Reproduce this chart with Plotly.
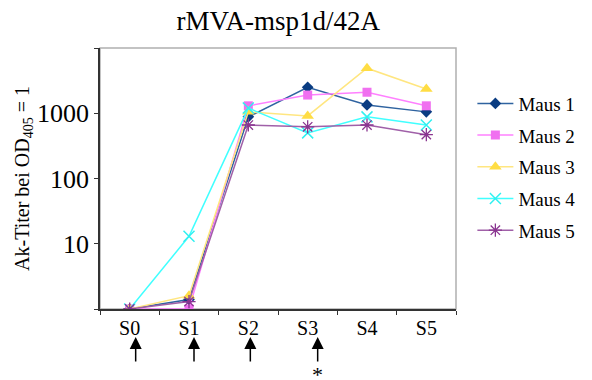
import plotly.graph_objects as go

categories = ["S0", "S1", "S2", "S3", "S4", "S5"]
maus1 = [1, 1.4, 880, 2500, 1340, 1050]
maus2 = [1, 1, 1300, 1900, 2100, 1300]
maus3 = [1, 1.6, 1050, 910, 4900, 2350]
maus4 = [1, 13, 1200, 500, 880, 660]
maus5 = [1, 1.3, 660, 620, 660, 470]
names = ["Maus 1", "Maus 2", "Maus 3", "Maus 4", "Maus 5"]
series = [maus1, maus2, maus3, maus4, maus5]
arrow_cats = ["S0", "S1", "S2", "S3"]
ytickvals = [1, 10, 100, 1000, 10000]
yticktext = ["", "10", "100", "1000", ""]

styles = [
    dict(line="#2F63A0", marker=dict(symbol="diamond", color="#0A3C82", size=9)),
    dict(line="#FF80FF", marker=dict(symbol="square", color="#F070F0", size=9)),
    dict(line="#FFE680", marker=dict(symbol="triangle-up", color="#FFDD44", size=11)),
    dict(line="#40FFFF", marker=dict(symbol="x-thin", color="#30F0F0", size=11,
                                     line=dict(color="#30F0F0", width=1.5))),
    dict(line="#A060A8", marker=dict(symbol="asterisk", color="#8A3590", size=11,
                                     line=dict(color="#8A3590", width=1.3))),
]

FONT = "Liberation Serif"
fig = go.Figure()
for i, (nm, vals, st) in enumerate(zip(names, series, styles)):
    fig.add_trace(go.Scatter(
        x=categories, y=vals, name=nm, mode="lines+markers",
        line=dict(color=st["line"], width=1.5),
        marker=st["marker"], legendgroup=f"g{i}",
    ))

annotations = []
shifts = {"S0": 6, "S1": 5, "S2": 2, "S3": 10}
for c in arrow_cats:
    annotations.append(dict(
        x=c, y=-0.107, xref="x", yref="paper", xshift=shifts[c],
        showarrow=True, ax=0, ay=26, axref="pixel", ayref="pixel",
        arrowhead=2, arrowsize=1.6, arrowwidth=1.5, arrowcolor="black", text="",
    ))
annotations.append(dict(
    x="S3", y=-0.305, xref="x", yref="paper", xshift=10, showarrow=False,
    text="*", font=dict(family=FONT, size=22, color="black"),
))

fig.update_layout(
    width=592, height=380,
    margin=dict(l=100, r=126, t=48, b=71),
    paper_bgcolor="white", plot_bgcolor="white",
    title=dict(text="rMVA-msp1d/42A", x=0.47, xanchor="center", y=0.945, yanchor="middle",
               font=dict(family=FONT, size=27, color="black")),
    font=dict(family=FONT, color="black"),
    showlegend=True,
    legend=dict(x=1.046, y=0.86, xanchor="left", yanchor="top",
                font=dict(family=FONT, size=19, color="black"),
                tracegroupgap=4, itemwidth=36),
    annotations=annotations,
)
fig.update_xaxes(
    type="category", tickson="boundaries", ticks="outside", ticklen=4,
    tickcolor="#333", showline=True, linecolor="#333", linewidth=1.5,
    mirror=False, showgrid=False, tickfont=dict(family=FONT, size=20, color="black"),
    range=[-0.5, 5.5],
)
fig.update_yaxes(
    type="log", range=[0, 4], tickvals=ytickvals, ticktext=yticktext,
    ticks="outside", ticklen=4, tickcolor="#333", showline=True, linecolor="#333",
    linewidth=1.5, showgrid=False, zeroline=False,
    tickfont=dict(family=FONT, size=26, color="black"),
    title=dict(text="Ak-Titer bei OD<sub>405</sub> = 1", font=dict(family=FONT, size=20, color="black"),
               standoff=2),
)
fig.add_shape(type="rect", xref="paper", yref="paper", x0=0, y0=0, x1=1, y1=1,
              line=dict(color="#B0B0B0", width=1.5), layer="below")
fig.write_html("out.html", config={"displayModeBar": False},
               post_script="document.body.style.margin='0px';")
